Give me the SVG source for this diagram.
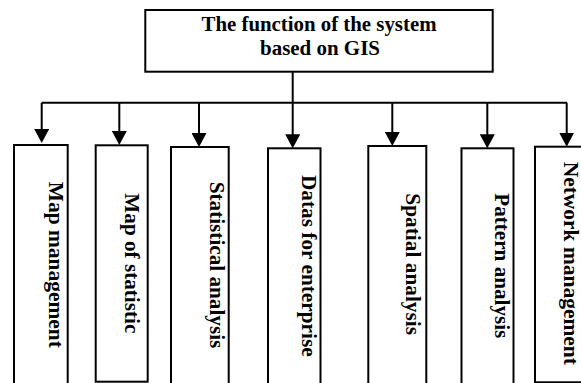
<svg xmlns="http://www.w3.org/2000/svg" width="581" height="383" viewBox="0 0 581 383">
<style>
.box{fill:#fff;stroke:#000;stroke-width:2}
.t{font-family:"Liberation Serif","Times New Roman",serif;font-weight:bold;font-size:20px;fill:#000}
.c{fill:none;stroke:#000;stroke-width:2}
</style>
<defs>
<marker id="ah" viewBox="0 0 14 15" markerUnits="userSpaceOnUse" markerWidth="14" markerHeight="15" refX="9" refY="7.5" orient="auto">
<path d="M0,0 L14,7.5 L0,15 z" fill="#000"/>
</marker>
</defs>
<rect width="581" height="383" fill="#fff"/>
<g id="root">
<rect class="box" x="145.3" y="10" width="347.4" height="61.7"/>
<text class="t" x="319" y="30.7" text-anchor="middle" font-size="19" textLength="235" lengthAdjust="spacingAndGlyphs">The function of the system</text>
<text class="t" x="320" y="55" text-anchor="middle" font-size="19" textLength="120" lengthAdjust="spacingAndGlyphs">based on GIS</text>
</g>
<g id="connectors">
<path class="c" d="M41.7,102.7 H567"/>
<path class="c" d="M292.7,71.7 V143.3" marker-end="url(#ah)"/>
<path class="c" d="M41.7,102.7 V138" marker-end="url(#ah)"/>
<path class="c" d="M119.3,102.7 V140" marker-end="url(#ah)"/>
<path class="c" d="M199,102.7 V142" marker-end="url(#ah)"/>
<path class="c" d="M392.3,102.7 V141" marker-end="url(#ah)"/>
<path class="c" d="M487.3,102.7 V143.3" marker-end="url(#ah)"/>
<path class="c" d="M566.7,102.7 V141.7" marker-end="url(#ah)"/>
</g>
<g id="n1">
<rect class="box" x="14" y="145" width="53.7" height="250"/>
<text class="t" transform="translate(48.5,264.8) rotate(90)" text-anchor="middle" textLength="166" lengthAdjust="spacingAndGlyphs">Map management</text>
</g>
<g id="n2">
<rect class="box" x="95.7" y="145.3" width="52" height="236.4"/>
<text class="t" transform="translate(125,263.3) rotate(90)" text-anchor="middle" textLength="140" lengthAdjust="spacingAndGlyphs">Map of statistic</text>
</g>
<g id="n3">
<rect class="box" x="171" y="147" width="57.7" height="250"/>
<text class="t" transform="translate(210,265) rotate(90)" text-anchor="middle" textLength="166.6" lengthAdjust="spacingAndGlyphs">Statistical analysis</text>
</g>
<g id="n4">
<rect class="box" x="268" y="148.3" width="52.5" height="250"/>
<text class="t" transform="translate(301.8,265.8) rotate(90)" text-anchor="middle" textLength="181.7" lengthAdjust="spacingAndGlyphs">Datas for enterprise</text>
</g>
<g id="n5">
<rect class="box" x="368.3" y="146" width="58" height="250"/>
<text class="t" transform="translate(406,264.2) rotate(90)" text-anchor="middle" textLength="141.7" lengthAdjust="spacingAndGlyphs">Spatial analysis</text>
</g>
<g id="n6">
<rect class="box" x="461.5" y="148.3" width="52" height="250"/>
<text class="t" transform="translate(494.5,265.8) rotate(90)" text-anchor="middle" textLength="145" lengthAdjust="spacingAndGlyphs">Pattern analysis</text>
</g>
<g id="n7">
<rect class="box" x="535" y="146.7" width="60" height="235.6"/>
<text class="t" transform="translate(563.5,263.3) rotate(90)" text-anchor="middle" font-size="19" textLength="203.3" lengthAdjust="spacingAndGlyphs">Network management</text>
</g>
</svg>
